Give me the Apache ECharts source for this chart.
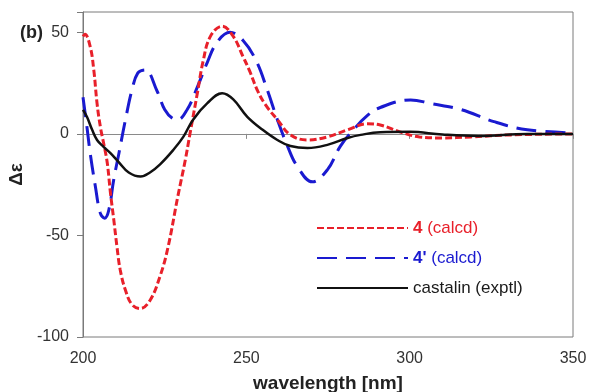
<!DOCTYPE html>
<html>
<head>
<meta charset="utf-8">
<script src="https://cdn.jsdelivr.net/npm/echarts@6/dist/echarts.min.js"></script>
<style>
html,body{margin:0;padding:0;background:#fff;}
#chart{width:589px;height:392px;}
</style>
</head>
<body>
<div id="chart"></div>
<script>
var xTicks = [200, 250, 300, 350];
var yTicks = [-100, -50, 0, 50];

var calcdWl = [200, 200.6, 202.2, 203.3, 204.3, 205.3, 206.3, 207.4, 208.4, 209.4, 210.4, 211.4, 213, 215, 217.5, 220.5, 223.6, 226, 229, 231.3, 232.8, 235, 236.8, 239, 242.6, 246, 249, 251, 253.5, 256, 259.5, 263.5, 268.7, 274.8, 281, 287, 291, 297, 303, 310, 318.7, 331, 350];
var calcdVal = [48, 49, 43, 31.5, 15, 3.6, -4.5, -14, -29, -42, -55.6, -67, -77, -84, -86, -82, -70, -56, -31, -13, 0.5, 20, 36, 48, 53, 48, 38, 31, 21, 14, 7, -0.5, -3, -1.5, 2, 5, 4.4, 1, -1.5, -2, -1.5, -0.5, 0];

var primeWl = [200, 201.2, 202.2, 203.8, 205.3, 206.6, 207.9, 209.4, 211, 213, 215, 216.8, 219, 222.7, 225, 227.5, 229, 231.9, 235, 238, 241, 245, 249, 253, 256.4, 259.5, 262.6, 265.6, 270.2, 274.8, 278.8, 282.8, 287, 291, 300.3, 306.4, 315.6, 325.8, 336, 350];
var primeVal = [18, 3.5, -9.5, -26, -39, -41.5, -37.5, -22.6, -9.5, 7, 21.7, 30, 31.5, 21, 12, 7.5, 7, 12, 23, 35, 45, 50, 46, 36, 21.7, 7, -6, -16, -23.6, -17.7, -6, 2, 9, 13, 16.7, 15, 12, 6, 2, 0.5];

var exptlWl = [200, 201.2, 202.8, 204.3, 206.3, 208.4, 211, 214, 217.6, 220.5, 223.6, 227.6, 230.7, 233.7, 238, 242.6, 246, 250.3, 255, 259.5, 263.5, 268.7, 274.8, 281, 285, 291, 300, 310, 321, 336, 350];
var exptlVal = [11.8, 8.4, 2, -3, -6.4, -9.5, -14, -19, -21, -19, -15, -8, -1.5, 7, 15, 20, 17, 8.4, 2, -3, -6, -7, -5.4, -2, -0.5, 0.8, 1, -0.3, -1, 0, 0];

function pairs(xs, ys) { return xs.map(function (x, i) { return [x, ys[i]]; }); }

var FONT = 'Liberation Sans, Arial, sans-serif';
var chart = echarts.init(document.getElementById('chart'), null, {renderer: 'canvas'});
chart.setOption({
  animation: false,
  backgroundColor: '#fff',
  title: {
    text: '(b)', left: 15, top: 19,
    textStyle: {fontFamily: FONT, fontSize: 18, fontWeight: 'bold', color: '#222'}
  },
  grid: {left: 83, right: 16, top: 12, bottom: 55, show: true, borderColor: '#7a7a7a', borderWidth: 1,
    containLabel: false, outerBoundsMode: 'none'},
  legend: {
    orient: 'vertical', left: 311, top: 213, itemWidth: 91, itemHeight: 20, itemGap: 10,
    itemStyle: {opacity: 0},
    textStyle: {fontFamily: FONT, fontSize: 17, lineHeight: 20, rich: {b: {fontWeight: 'bold', fontFamily: FONT, fontSize: 17}}},
    formatter: function (name) {
      if (name === '4 (calcd)') return '{b|4} (calcd)';
      if (name === "4' (calcd)") return "{b|4'} (calcd)";
      return name;
    },
    data: [
      {name: '4 (calcd)', textStyle: {color: '#e8202a'}},
      {name: "4' (calcd)", textStyle: {color: '#1a1ad0'}},
      {name: 'castalin (exptl)', textStyle: {color: '#1a1a1a'}}
    ]
  },
  xAxis: [{
    type: 'value', min: 200, max: 350, interval: 50, position: 'bottom',
    axisLine: {show: false, onZero: false}, axisTick: {show: false}, splitLine: {show: false},
    axisLabel: {fontFamily: FONT, fontSize: 16, color: '#333', margin: 14,
      formatter: function (v) { return xTicks.indexOf(v) >= 0 ? String(v) : ''; }},
    name: 'wavelength [nm]', nameLocation: 'middle', nameGap: 37,
    nameTextStyle: {fontFamily: FONT, fontSize: 19, fontWeight: 'bold', color: '#222'}
  }, {
    type: 'value', min: 200, max: 350, interval: 50, position: 'top',
    axisLine: {show: true, onZero: true, lineStyle: {color: '#8a8a8a', width: 1}},
    axisTick: {show: true, inside: true, length: 5, lineStyle: {color: '#8a8a8a'}},
    axisLabel: {show: false}, splitLine: {show: false}
  }],
  yAxis: {
    type: 'value', min: -100, max: 60, interval: 50,
    axisLine: {show: true, lineStyle: {color: '#7a7a7a'}},
    axisTick: {show: true, length: 6, lineStyle: {color: '#7a7a7a'}},
    splitLine: {show: false},
    axisLabel: {fontFamily: FONT, fontSize: 16, color: '#333', margin: 14,
      formatter: function (v) { return yTicks.indexOf(v) >= 0 ? String(v) : ''; }},
    name: 'Δε', nameLocation: 'middle', nameGap: 47, nameRotate: 90,
    nameTextStyle: {fontFamily: FONT, fontSize: 19, fontWeight: 'bold', color: '#222'}
  },
  series: [{
    name: '4 (calcd)', type: 'line', smooth: 0.4, symbol: 'none', xAxisIndex: 0, z: 3,
    data: pairs(calcdWl, calcdVal),
    lineStyle: {color: '#e8202a', width: 3, type: [7, 3]},
    itemStyle: {color: '#e8202a'}
  }, {
    name: "4' (calcd)", type: 'line', smooth: 0.4, symbol: 'none', xAxisIndex: 0, z: 2,
    data: pairs(primeWl, primeVal),
    lineStyle: {color: '#1a1ad0', width: 3, type: [20, 9]},
    itemStyle: {color: '#1a1ad0'}
  }, {
    name: 'castalin (exptl)', type: 'line', smooth: 0.4, symbol: 'none', xAxisIndex: 0, z: 4,
    data: pairs(exptlWl, exptlVal),
    lineStyle: {color: '#111', width: 2.5},
    itemStyle: {color: '#111'}
  }]
});
</script>
</body>
</html>
